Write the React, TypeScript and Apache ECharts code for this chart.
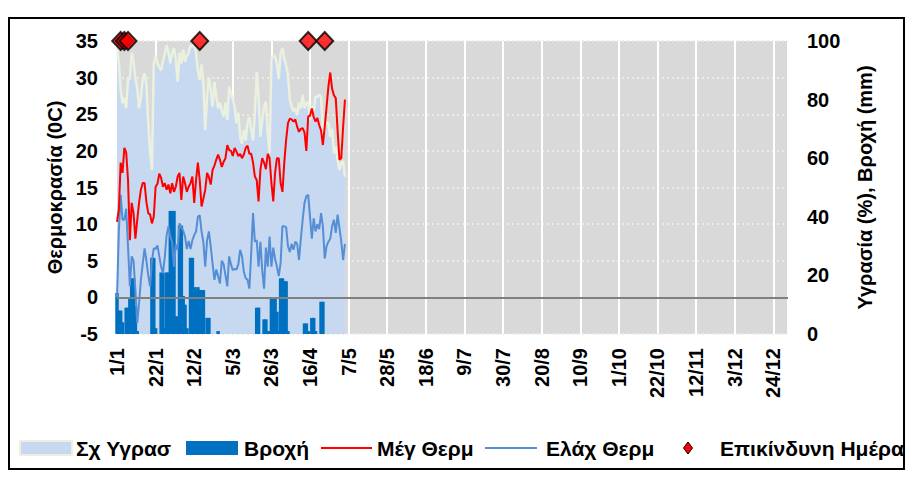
import React, { useEffect, useRef } from 'react';
import * as echarts from 'echarts';

// ---- Data (day index 0 = 1/1) ----
const xTickLabels = ['1/1', '22/1', '12/2', '5/3', '26/3', '16/4', '7/5', '28/5', '18/6', '9/7', '30/7', '20/8', '10/9', '1/10', '22/10', '12/11', '3/12', '24/12'];
const DAYS_IN_YEAR = 365;
const TICK_STEP = 21;

// Σχ Υγρασ (%), right axis
const humidity = [
  99, 92.5, 83.3, 78.8, 80.6, 77, 87, 87, 96, 93,
  87, 84, 77, 80.6, 87, 89, 85, 72, 62, 56,
  92, 95, 92.4, 91, 90, 93, 95.6, 98.6, 96, 92.4,
  96, 97.5, 93.6, 86.1, 96, 92.4, 97, 93, 95, 96,
  98.6, 98, 100, 95.6, 90, 86.7, 92, 85.4, 69.6, 81,
  87.3, 83.3, 77.6, 86, 81, 77, 79, 76, 74.2, 79,
  73, 84.4, 82, 80, 77.6, 71.9, 75.5, 67.3, 65, 69.6,
  66, 72, 74, 69.6, 66, 75.5, 89.5, 81, 67.3, 73,
  77.6, 79.3, 68.5, 61.7, 93.5, 95.2, 94.6, 92, 87, 96,
  97.5, 94, 91.6, 88.4, 80, 77.6, 76, 77, 74.7, 78.9,
  77, 81.6, 77, 79, 79, 72.9, 77.6, 76, 81, 81,
  81.6, 81, 68.5, 72, 72, 72, 67.3, 70, 61.7, 64,
  59.4, 56, 58.3, 59, 53.7,
];

// Βροχή (mm), right axis
const rain = [
  14, 8, 8, 4, 0, 9, 9, 12, 19, 19,
  9.6, 1, 0, 0, 0, 0, 0, 0, 0, 26,
  26, 2, 0, 0, 21, 21, 2, 21, 21, 42,
  42, 42, 6, 6, 37, 37, 13, 10, 2, 0,
  26, 26, 16, 15, 16, 15, 15, 15, 0, 5.5,
  5.5, 0, 0, 0, 0, 1, 0, 0, 0, 0,
  0, 0, 0, 0, 0, 0, 0, 0, 0, 0,
  0, 0, 0, 0, 0, 0, 9, 9, 0, 0,
  5, 5, 1, 1, 12, 12, 12, 7.6, 1, 19,
  19, 18, 18, 1, 0, 0, 0, 0, 0, 0,
  0, 0, 3.6, 3.6, 1, 0, 5.5, 5.5, 1, 0,
  0, 11, 11, 0, 0, 0, 0, 0, 0, 0,
  0, 0, 0, 0, 0,
];

// Μέγ Θερμ (°C), left axis
const maxTemp = [
  10.3, 12, 18.4, 17, 20.4, 19.8, 16, 7.8, 12.9, 11.5,
  8, 10.5, 12.9, 14.7, 15.6, 15.6, 13, 11.5, 11.3, 10.1,
  11, 15.1, 15.5, 16.9, 16.3, 15.1, 15.6, 14.7, 15.4, 14.2,
  15.6, 14.4, 15.1, 16.5, 17, 13.3, 16.5, 15.6, 14.4, 15.1,
  15.6, 16.5, 12.9, 16, 18.4, 16, 12.4, 13.5, 14.7, 17,
  16.4, 15.4, 17.4, 18, 18.8, 19.5, 18.8, 17.8, 18.5, 19,
  20.8, 20.1, 20, 19.3, 20.4, 19.9, 19.3, 19.6, 19, 19.5,
  20.4, 20.7, 19.6, 19.6, 18.4, 16.5, 16, 13.1, 17.4, 19,
  18.4, 17.5, 19.6, 19, 15.6, 13.1, 17, 19, 19, 15.6,
  14.4, 18.4, 21.5, 23.8, 24.4, 24.3, 24, 24.3, 23.3, 22.6,
  23, 23.1, 22.5, 20, 24.7, 24.8, 25.8, 24.6, 24, 24.5,
  23.5, 22.8, 20.8, 23.3, 26, 28.8, 30.7, 28.5, 27.6, 27.2,
  22.8, 18.8, 19, 23.3, 27,
];

// Ελάχ Θερμ (°C), left axis
const minTemp = [
  0, 9, 14, 10.6, 10.6, 12.1, 6.9, 1.5, 5.6, 5,
  1, -3.5, -0.8, 2.4, 4.6, 6.7, 5, 3, 1.5, 5,
  6.7, 6.6, 7.1, 5.6, 4.2, 3.3, 5.5, 8.5, 9.7, 8.3,
  7.5, 4.2, 7.2, 6.5, 10.1, 9.6, 9.1, 8.3, 6.6, 7.7,
  6.6, 7.8, 8.5, 9, 11, 11.2, 9, 7.5, 4.2, 7.8,
  9, 6.9, 4.6, 2.4, 3.8, 2.9, 1.9, 5, 4.5, 3,
  1.5, 5.6, 4.5, 3.7, 3.9, 3.8, 4.5, 6.5, 5.6, 3.5,
  2.6, 2.4, 1.2, 6, 11.5, 7.6, 7.8, 4.2, 7.6, 3.7,
  1.2, 6.8, 4.2, 8.3, 4.2, 6.8, 5.2, 4.2, 2.9, 4.7,
  9.7, 9.7, 9.6, 7, 6.2, 7.3, 6.5, 7.6, 7.3, 5.1,
  8, 10.6, 12.9, 13.8, 14, 11, 8, 10.8, 9, 10,
  9.3, 11.5, 9.7, 5.3, 7, 7.6, 8, 9.7, 10.6, 8.8,
  11.3, 9.5, 7.6, 5.1, 7.3,
];

// Επικίνδυνη Ημέρα (day indices), drawn at the top of the temperature axis
const dangerDays = [2, 4, 6, 45, 104, 113];
const DANGER_LEVEL = 35;

const FONT = '"Liberation Sans", Arial, Helvetica, sans-serif';
const C_HUM_FILL = '#C6D9F1';
const C_HUM_LINE = '#EBF1DE';
const C_RAIN = '#0070C0';
const C_MAX = '#FF0000';
const C_MIN = '#558ED5';

const pairs = (arr: number[]) => arr.map((v, i) => [i, v]);

export default function App() {
  const ref = useRef<HTMLDivElement>(null);

  useEffect(() => {
    const chart = echarts.init(ref.current as HTMLDivElement, null, { renderer: 'svg' });
    const labelStyle = { fontSize: 20, fontWeight: 'bold' as const, color: '#000', fontFamily: FONT };
    const legendY = 448;
    const legendText = (x: number, text: string) => ({
      type: 'text',
      x,
      y: legendY,
      silent: true,
      style: {
        text,
        fill: '#000',
        fontSize: 21,
        fontWeight: 'bold',
        fontFamily: FONT,
        textAlign: 'left',
        textVerticalAlign: 'middle',
        verticalAlign: 'middle',
      },
    });

    chart.setOption({
      animation: false,
      backgroundColor: '#FFFFFF',
      textStyle: { fontFamily: FONT },
      grid: {
        left: 117,
        top: 41,
        width: 671,
        height: 293,
        show: true,
        backgroundColor: '#D9D9D9',
        borderWidth: 0,
      },
      xAxis: {
        type: 'value',
        min: 0,
        max: DAYS_IN_YEAR,
        interval: TICK_STEP,
        axisLine: { show: false },
        axisTick: { show: false },
        splitLine: { show: true, lineStyle: { color: '#FFFFFF', width: 2 } },
        axisLabel: {
          ...labelStyle,
          rotate: 90,
          margin: 14,
          showMaxLabel: false,
          formatter: (v: number) => {
            const k = v / TICK_STEP;
            return Number.isInteger(k) && k < xTickLabels.length ? xTickLabels[k] : '';
          },
        },
      },
      yAxis: [
        {
          type: 'value',
          position: 'left',
          min: -5,
          max: 35,
          interval: 5,
          name: 'Θερμοκρασία (0C)',
          nameLocation: 'middle',
          nameRotate: 90,
          nameGap: 50,
          nameTextStyle: { ...labelStyle },
          axisLine: { show: false },
          axisTick: { show: false },
          axisLabel: { ...labelStyle, margin: 19 },
          splitLine: { show: true, lineStyle: { color: '#EEECE1', width: 2, type: [2, 3] } },
        },
        {
          type: 'value',
          position: 'right',
          min: 0,
          max: 100,
          interval: 20,
          name: 'Υγρασία (%), Βροχή (mm)',
          nameLocation: 'middle',
          nameRotate: 90,
          nameGap: 67,
          nameTextStyle: { ...labelStyle },
          axisLine: { show: false },
          axisTick: { show: false },
          axisLabel: { ...labelStyle, margin: 19 },
          splitLine: { show: false },
        },
      ],
      series: [
        {
          name: 'Σχ Υγρασ',
          type: 'line',
          yAxisIndex: 1,
          data: pairs(humidity),
          symbol: 'none',
          lineStyle: { color: C_HUM_LINE, width: 2.5 },
          itemStyle: { color: C_HUM_FILL },
          areaStyle: { color: C_HUM_FILL, opacity: 1 },
          z: 2,
        },
        {
          name: 'Βροχή',
          type: 'bar',
          yAxisIndex: 1,
          data: pairs(rain),
          barWidth: 3.5,
          itemStyle: { color: C_RAIN },
          z: 3,
        },
        {
          name: 'Μέγ Θερμ',
          type: 'line',
          yAxisIndex: 0,
          data: pairs(maxTemp),
          symbol: 'none',
          lineStyle: { color: C_MAX, width: 2 },
          itemStyle: { color: C_MAX },
          z: 5,
          markLine: {
            silent: true,
            symbol: ['none', 'none'],
            label: { show: false },
            lineStyle: { color: '#808080', width: 2, type: 'solid' },
            data: [{ yAxis: 0 }],
          },
        },
        {
          name: 'Ελάχ Θερμ',
          type: 'line',
          yAxisIndex: 0,
          data: pairs(minTemp),
          symbol: 'none',
          lineStyle: { color: C_MIN, width: 2 },
          itemStyle: { color: C_MIN },
          z: 4,
        },
        {
          name: 'Επικίνδυνη Ημέρα',
          type: 'scatter',
          yAxisIndex: 0,
          data: dangerDays.map((d) => [d, DANGER_LEVEL]),
          symbol: 'diamond',
          symbolSize: [17, 18],
          clip: false,
          itemStyle: { color: '#FF0000', borderColor: '#000000', borderWidth: 2 },
          z: 6,
        },
      ],
      graphic: [
        {
          type: 'rect',
          silent: true,
          z: 100,
          shape: { x: 9, y: 18, width: 895, height: 451 },
          style: { fill: 'none', stroke: '#000000', lineWidth: 2 },
        },
        {
          type: 'rect',
          silent: true,
          shape: { x: 20, y: 441, width: 52, height: 14 },
          style: { fill: C_HUM_FILL, stroke: C_HUM_LINE, lineWidth: 2 },
        },
        legendText(76, 'Σχ Υγρασ'),
        {
          type: 'rect',
          silent: true,
          shape: { x: 186, y: 441, width: 52, height: 14 },
          style: { fill: C_RAIN },
        },
        legendText(244, 'Βροχή'),
        {
          type: 'line',
          silent: true,
          shape: { x1: 321, y1: legendY, x2: 372, y2: legendY },
          style: { stroke: C_MAX, lineWidth: 2 },
        },
        legendText(377, 'Μέγ Θερμ'),
        {
          type: 'line',
          silent: true,
          shape: { x1: 485, y1: legendY, x2: 537, y2: legendY },
          style: { stroke: C_MIN, lineWidth: 2 },
        },
        legendText(546, 'Ελάχ Θερμ'),
        {
          type: 'polygon',
          silent: true,
          shape: { points: [[688, legendY - 6], [692.5, legendY], [688, legendY + 6], [683.5, legendY]] },
          style: { fill: '#FF0000', stroke: '#000000', lineWidth: 1 },
        },
        legendText(720, 'Επικίνδυνη Ημέρα'),
      ],
    });

    return () => {
      chart.dispose();
    };
  }, []);

  return (
    <div
      ref={ref}
      style={{ position: 'fixed', left: 0, top: 0, width: 910, height: 499, background: '#fff' }}
    />
  );
}
